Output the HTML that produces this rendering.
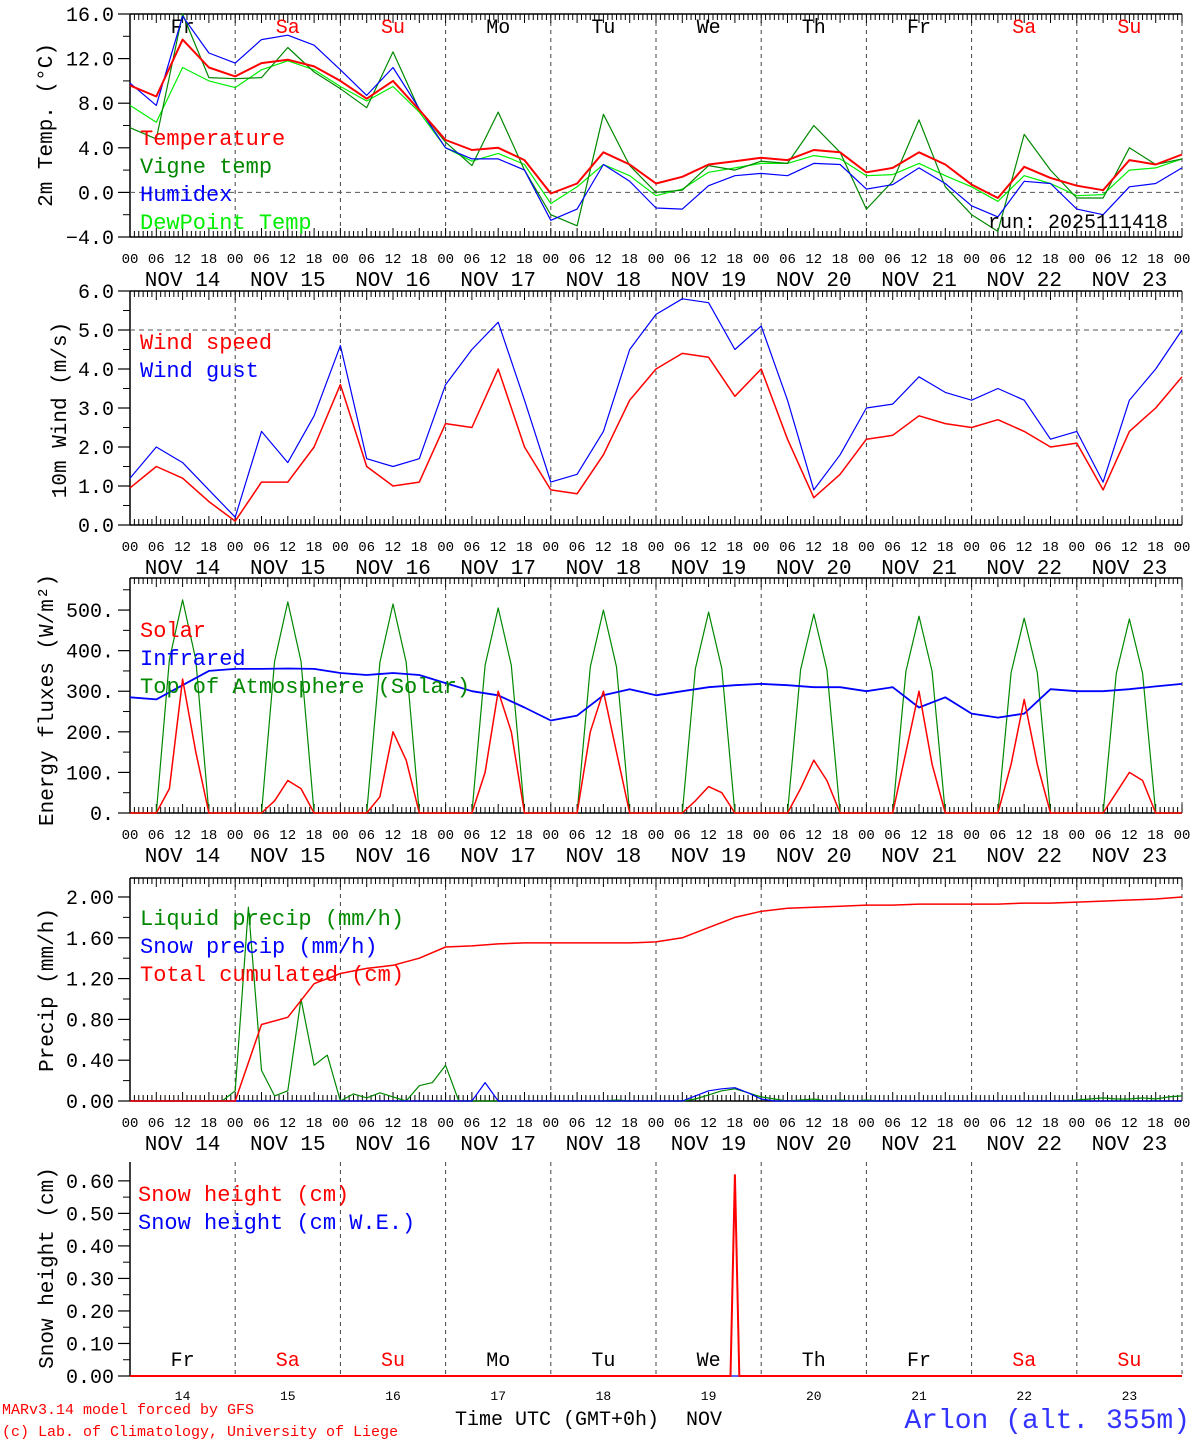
<!DOCTYPE html>
<html><head><meta charset="utf-8">
<style>
html,body{margin:0;padding:0;background:#fff;}
svg{display:block;}
text{font-family:"Liberation Mono",monospace;}
</style></head>
<body>
<svg id="chart" width="1194" height="1440" viewBox="0 0 1194 1440" xmlns="http://www.w3.org/2000/svg"></svg>
<script>
// ---- data (6-hourly unless noted) ----
const dayNames = ["Fr","Sa","Su","Mo","Tu","We","Th","Fr","Sa","Su"];
const dayNums = ["14","15","16","17","18","19","20","21","22","23"];
const hourTicks = ["00","06","12","18"];
const tempVals = [9.6,8.6,13.7,11.2,10.4,11.6,11.9,11.3,10.0,8.4,10.0,7.4,4.7,3.8,4.0,2.9,-0.1,0.8,3.6,2.5,0.8,1.4,2.5,2.8,3.1,2.9,3.8,3.6,1.8,2.2,3.6,2.5,0.7,-0.5,2.3,1.3,0.6,0.2,2.9,2.5,3.4];
const vigneVals = [5.8,4.8,16.2,10.3,10.2,10.3,13.0,10.8,9.3,7.6,12.6,7.4,4.5,2.4,7.2,2.0,-2.0,-3.0,7.0,2.4,0.0,0.2,2.4,2.0,2.8,2.6,6.0,3.6,-1.5,1.0,6.5,0.5,-2.0,-3.5,5.2,2.0,-0.5,-0.5,4.0,2.5,3.0];
const humidexVals = [9.8,7.8,15.8,12.5,11.6,13.7,14.1,13.2,11.0,8.7,11.2,7.5,4.0,3.0,3.0,2.0,-2.5,-1.5,2.5,1.0,-1.4,-1.5,0.6,1.5,1.7,1.5,2.6,2.5,0.3,0.7,2.2,0.8,-1.2,-2.2,1.0,0.8,-1.5,-2.0,0.5,0.8,2.2];
const dewVals = [7.8,6.3,11.2,10.0,9.4,11.0,11.8,11.0,9.5,8.2,9.5,7.2,4.0,2.8,3.5,2.5,-1.0,0.5,2.5,1.5,-0.3,0.3,1.8,2.2,2.6,2.6,3.3,3.0,1.5,1.6,2.6,1.5,0.5,-0.8,1.5,0.8,-0.3,-0.2,2.0,2.2,3.0];
const windVals = [0.95,1.5,1.2,0.6,0.1,1.1,1.1,2.0,3.6,1.5,1.0,1.1,2.6,2.5,4.0,2.0,0.9,0.8,1.8,3.2,4.0,4.4,4.3,3.3,4.0,2.2,0.7,1.3,2.2,2.3,2.8,2.6,2.5,2.7,2.4,2.0,2.1,0.9,2.4,3.0,3.8];
const gustVals = [1.2,2.0,1.6,0.9,0.2,2.4,1.6,2.8,4.6,1.7,1.5,1.7,3.6,4.5,5.2,3.2,1.1,1.3,2.4,4.5,5.4,5.8,5.7,4.5,5.1,3.2,0.9,1.8,3.0,3.1,3.8,3.4,3.2,3.5,3.2,2.2,2.4,1.1,3.2,4.0,5.0];
// 3-hourly
const solarVals = [0,0,0,60,330,150,0,0, 0,0,0,30,80,60,0,0, 0,0,0,40,200,130,0,0, 0,0,0,100,300,200,0,0, 0,0,0,200,300,150,0,0, 0,0,0,30,65,50,0,0, 0,0,0,60,130,80,0,0, 0,0,0,150,300,120,0,0, 0,0,0,120,280,120,0,0, 0,0,0,50,100,80,0,0, 0];
const toaVals = [0,0,0,378,525,378,0,0, 0,0,0,374,520,374,0,0, 0,0,0,371,515,371,0,0, 0,0,0,364,505,364,0,0, 0,0,0,360,500,360,0,0, 0,0,0,356,495,356,0,0, 0,0,0,353,490,353,0,0, 0,0,0,349,485,349,0,0, 0,0,0,346,480,346,0,0, 0,0,0,344,478,344,0,0, 0];
const infraVals = [285,280,315,350,355,355,356,355,345,340,345,340,320,300,290,260,228,240,290,305,290,300,310,315,318,315,310,310,300,310,260,285,245,235,245,305,300,300,305,312,318];
const cumVals = [0,0,0,0,0,0.75,0.82,1.15,1.25,1.30,1.33,1.40,1.51,1.52,1.54,1.55,1.55,1.55,1.55,1.55,1.56,1.60,1.70,1.80,1.86,1.89,1.90,1.91,1.92,1.92,1.93,1.93,1.93,1.93,1.94,1.94,1.95,1.96,1.97,1.98,2.00];
const liquidVals = [0,0,0,0,0,0,0,0,0.1,1.9,0.3,0.05,0.1,1.0,0.35,0.45,0,0.07,0.03,0.08,0.04,0,0.15,0.18,0.35,0,0,0,0,0,0,0,0,0,0,0,0,0.01,0,0,0,0,0,0.02,0.06,0.1,0.12,0.08,0.04,0.02,0,0.01,0.02,0,0.01,0,0.01,0,0,0,0,0,0,0,0,0,0,0,0,0,0,0,0.01,0.02,0.03,0.02,0.02,0.03,0.02,0.04,0.05];
const snowPrecipVals = [0,0,0,0,0,0,0,0,0,0,0,0,0,0,0,0,0,0,0,0,0,0,0,0,0,0,0,0.18,0,0,0,0,0,0,0,0,0,0,0,0,0,0,0,0.05,0.1,0.12,0.13,0.08,0.02,0,0,0,0,0,0,0,0,0,0,0,0,0,0,0,0,0,0,0,0,0,0,0,0,0,0,0,0,0,0,0,0];
// snow height: hourly around the event (hours 136..144), zero elsewhere
const snowHHours = [0,137,138,139,240];
const snowHVals = [0,0,0.62,0,0];

const svg = document.getElementById('chart');
const NS = 'http://www.w3.org/2000/svg';
const X0 = 130, X1 = 1182;
function xH(h){ return X0 + h/240*(X1-X0); }
const panels = [
 {top:14,bottom:237,min:-4,max:16},
 {top:291,bottom:525,min:0,max:6},
 {top:578,bottom:813,min:0,max:579},
 {top:878,bottom:1101,min:0,max:2.186},
 {top:1162,bottom:1376,min:0,max:0.658}
];
function yV(p,v){ v=Math.max(p.min,Math.min(p.max,v)); return p.bottom-(v-p.min)/(p.max-p.min)*(p.bottom-p.top); }
function mk(tag, attrs){ const e=document.createElementNS(NS,tag); for(const k in attrs) e.setAttribute(k,attrs[k]); svg.appendChild(e); return e; }
function txt(s,x,y,size,fill,anchor){ const t=mk('text',{x:x,y:y,'font-size':size,fill:fill||'#000','text-anchor':anchor||'start'}); t.textContent=s; return t; }
function series(p, vals, stepH, color, width, name){
  const pts = vals.map((v,i)=>xH(i*stepH).toFixed(1)+','+yV(p,v).toFixed(1)).join(' ');
  const e = mk('polyline',{points:pts,fill:'none',stroke:color,'stroke-width':width,'stroke-linejoin':'round'});
  
  
}

panels.forEach((p,pi)=>{
  for(let d=1; d<=10; d++){
    const l=mk('line',{x1:xH(d*24),x2:xH(d*24),y1:p.top,y2:p.bottom,stroke:'#444','stroke-width':1,'stroke-dasharray':'4,4'});
    
    
  }
  const ax=mk('line',{x1:X0,x2:X0,y1:p.top,y2:p.bottom,stroke:'#000','stroke-width':1.5});
  
  
  if(pi<4){
    const bt=mk('line',{x1:X0,x2:X1,y1:p.bottom,y2:p.bottom,stroke:'#000','stroke-width':1.5});
    
    
    const tp=mk('line',{x1:X0,x2:X1,y1:p.top,y2:p.top,stroke:'#000','stroke-width':1.5});
    
    
    for(let h=0; h<=240; h++){
      const len = h%6===0 ? 9 : 6;
      mk('line',{x1:xH(h),x2:xH(h),y1:p.bottom,y2:p.bottom-len,stroke:'#000','stroke-width':1});
      mk('line',{x1:xH(h),x2:xH(h),y1:p.top,y2:p.top+len,stroke:'#000','stroke-width':1});
    }
    for(let d=0; d<10; d++){
      for(let k=0;k<4;k++){ txt(hourTicks[k], xH(d*24+k*6), p.bottom+26, 14, '#000','middle'); }
      txt('NOV '+dayNums[d], xH(d*24+12), p.bottom+49, 21, '#000','middle');
    }
    txt('00', xH(240), p.bottom+26, 14, '#000','middle');
  }
});

function yTicks(p, majors, labels, minors){
  majors.forEach((v,i)=>{
    const y=yV(p,v);
    mk('line',{x1:X0-12,x2:X0,y1:y,y2:y,stroke:'#000','stroke-width':1.2});
    txt(labels[i], X0-16, y+7, 20, '#000', 'end');
  });
  minors.forEach(v=>{ const y=yV(p,v); mk('line',{x1:X0-7,x2:X0,y1:y,y2:y,stroke:'#000','stroke-width':1}); });
}
yTicks(panels[0],[16,12,8,4,0,-4],['16.0','12.0','8.0','4.0','0.0','\u22124.0'],[14,10,6,2,-2]);
yTicks(panels[1],[6,5,4,3,2,1,0],['6.0','5.0','4.0','3.0','2.0','1.0','0.0'],[5.5,4.5,3.5,2.5,1.5,0.5]);
yTicks(panels[2],[500,400,300,200,100,0],['500.','400.','300.','200.','100.','0.'],[550,450,350,250,150,50]);
yTicks(panels[3],[2,1.6,1.2,0.8,0.4,0],['2.00','1.60','1.20','0.80','0.40','0.00'],[1.8,1.4,1.0,0.6,0.2]);
yTicks(panels[4],[0.6,0.5,0.4,0.3,0.2,0.1,0],['0.60','0.50','0.40','0.30','0.20','0.10','0.00'],[0.55,0.45,0.35,0.25,0.15,0.05]);

mk('line',{x1:X0,x2:X1,y1:yV(panels[0],0),y2:yV(panels[0],0),stroke:'#555','stroke-dasharray':'5,4'});
mk('line',{x1:X0,x2:X1,y1:yV(panels[1],5),y2:yV(panels[1],5),stroke:'#555','stroke-dasharray':'5,4'});

function ytitle(s,x,y){ const t=txt(s,x,y,21,'#000','middle'); t.setAttribute('transform','rotate(-90 '+x+' '+y+')'); t.setAttribute('font-family','Liberation Serif, serif'); return t; }
ytitle('2m Temp. (\u00B0C)',52,125);
ytitle('10m Wind (m/s)',66,410);
ytitle('Energy fluxes (W/m\u00B2)',53,700);
ytitle('Precip (mm/h)',53,990);
ytitle('Snow height (cm)',53,1268);

const redDays=[1,2,8,9];
dayNames.forEach((n,d)=>{
  const c = redDays.includes(d)?'#f00':'#000';
  txt(n, xH(d*24+12), 33, 20, c, 'middle');
  txt(n, xH(d*24+12), 1366, 20, c, 'middle');
  txt(dayNums[d], xH(d*24+12), 1400, 13, '#000', 'middle');
});

series(panels[0], dewVals, 6, '#00ee00', 1.2, 'dewpoint-line');
series(panels[0], vigneVals, 6, '#008800', 1.2, 'vigne-temp-line');
series(panels[0], humidexVals, 6, '#0000ff', 1.2, 'humidex-line');
series(panels[0], tempVals, 6, '#ff0000', 2, 'temperature-line');
series(panels[1], gustVals, 6, '#0000ff', 1.2, 'wind-gust-line');
series(panels[1], windVals, 6, '#ff0000', 1.5, 'wind-speed-line');
series(panels[2], toaVals, 3, '#008800', 1.2, 'toa-solar-line');
series(panels[2], infraVals, 6, '#0000ff', 1.8, 'infrared-line');
series(panels[2], solarVals, 3, '#ff0000', 1.5, 'solar-line');
series(panels[3], liquidVals, 3, '#008800', 1.2, 'liquid-precip-line');
series(panels[3], snowPrecipVals, 3, '#0000ff', 1.2, 'snow-precip-line');
series(panels[3], cumVals, 6, '#ff0000', 1.5, 'total-cumulated-line');
series(panels[4], [0,0], 240, '#0000ff', 1.2, 'snow-we-line');
(function(){
  const p=panels[4];
  const pts=snowHVals.map((v,i)=>xH(snowHHours[i]).toFixed(1)+','+yV(p,v).toFixed(1)).join(' ');
  const e=mk('polyline',{points:pts,fill:'none',stroke:'#ff0000','stroke-width':2});
  
  
})();

function leg(s,x,y,c,size){ const t=txt(s,x,y,size||22,c);   }
leg('Temperature',140,145,'#f00'); leg('Vigne temp',140,173,'#080'); leg('Humidex',140,201,'#00f'); leg('DewPoint Temp',140,229,'#0e0');
txt('run: 2025111418',1168,228,20,'#000','end');
leg('Wind speed',140,349,'#f00'); leg('Wind gust',140,377,'#00f');
leg('Solar',140,637,'#f00'); leg('Infrared',140,665,'#00f'); leg('Top of Atmosphere (Solar)',140,693,'#080');
leg('Liquid precip (mm/h)',140,925,'#080'); leg('Snow precip (mm/h)',140,953,'#00f'); leg('Total cumulated (cm)',140,981,'#f00');
leg('Snow height (cm)',138,1201,'#f00'); leg('Snow height (cm W.E.)',138,1229,'#00f');

txt('MARv3.14 model forced by GFS',2,1414,15,'#f00');
txt('(c) Lab. of Climatology, University of Liege',2,1436,15,'#f00');
txt('Time UTC (GMT+0h)',455,1425,20,'#000');
txt('NOV',686,1425,20,'#000');
const ar=txt('Arlon (alt. 355m)',1190,1428,28,'#33f','end');
ar.setAttribute('font-family','Liberation Serif, serif');
</script>
</body></html>
